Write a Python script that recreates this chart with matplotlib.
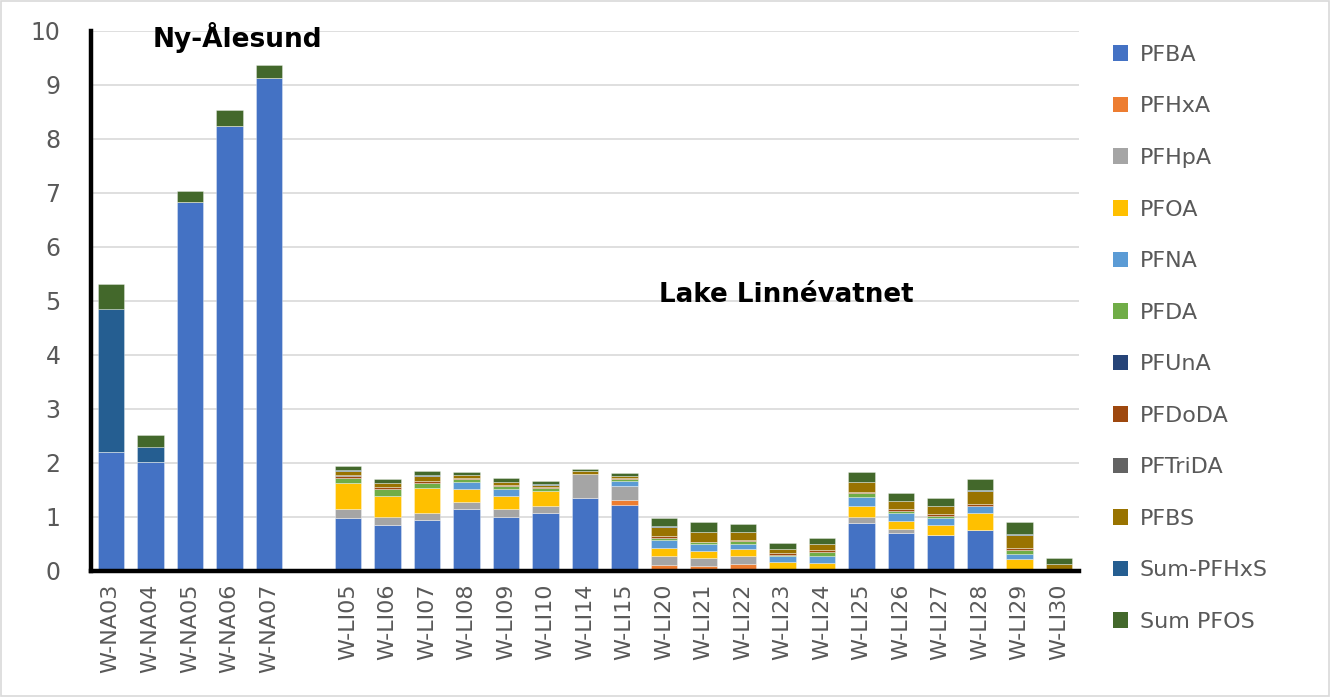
import matplotlib
matplotlib.use("Agg")
import matplotlib.pyplot as plt
from matplotlib.patches import Patch, Rectangle
import numpy as np

plt.rcParams['font.family'] = ['DejaVu Sans']

categories = ["W-NA03", "W-NA04", "W-NA05", "W-NA06", "W-NA07", "",
              "W-LI05", "W-LI06", "W-LI07", "W-LI08", "W-LI09", "W-LI10",
              "W-LI14", "W-LI15", "W-LI20", "W-LI21", "W-LI22", "W-LI23",
              "W-LI24", "W-LI25", "W-LI26", "W-LI27", "W-LI28", "W-LI29", "W-LI30"]

series_names = ["PFBA", "PFHxA", "PFHpA", "PFOA", "PFNA", "PFDA", "PFUnA",
                "PFDoDA", "PFTriDA", "PFBS", "Sum-PFHxS", "Sum PFOS"]

PFBA = [2.19, 2.01, 6.83, 8.24, 9.13, 0,
        0.98, 0.85, 0.93, 1.15, 1.00, 1.07, 1.35, 1.22,
        0, 0, 0, 0, 0, 0.89, 0.69, 0.67, 0.76, 0, 0]
PFHxA = [0, 0, 0, 0, 0, 0,
         0, 0, 0, 0, 0, 0, 0, 0.09,
         0.10, 0.09, 0.12, 0, 0, 0, 0, 0, 0, 0, 0]
PFHpA = [0, 0, 0, 0, 0, 0,
         0.17, 0.15, 0.14, 0.13, 0.14, 0.13, 0.44, 0.25,
         0.17, 0.14, 0.15, 0, 0, 0.11, 0.09, 0, 0, 0, 0]
PFOA = [0, 0, 0, 0, 0, 0,
        0.47, 0.38, 0.46, 0.24, 0.24, 0.27, 0, 0,
        0.15, 0.14, 0.13, 0.16, 0.14, 0.20, 0.14, 0.17, 0.30, 0.21, 0]
PFNA = [0, 0, 0, 0, 0, 0,
        0, 0, 0, 0.12, 0.13, 0, 0, 0.10,
        0.14, 0.12, 0.10, 0.11, 0.14, 0.16, 0.14, 0.13, 0.14, 0.10, 0]
PFDA = [0, 0, 0, 0, 0, 0,
        0.10, 0.13, 0.10, 0.055, 0.055, 0.055, 0, 0.037,
        0.05, 0.05, 0.055, 0.03, 0.068, 0.075, 0.05, 0.05, 0, 0.08, 0]
PFUnA = [0] * 25
PFDoDA = [0, 0, 0, 0, 0, 0,
          0.025, 0.04, 0.035, 0.02, 0.02, 0.02, 0, 0.02,
          0.03, 0, 0.02, 0.02, 0.035, 0.025, 0.03, 0.025, 0.04, 0.037, 0]
PFTriDA = [0, 0, 0, 0, 0, 0,
           0.035, 0, 0, 0, 0, 0, 0, 0,
           0, 0, 0, 0, 0, 0, 0, 0, 0, 0, 0]
PFBS = [0, 0, 0, 0, 0, 0,
        0.068, 0.07, 0.08, 0.05, 0.055, 0.04, 0.05, 0.045,
        0.17, 0.18, 0.14, 0.086, 0.11, 0.18, 0.155, 0.15, 0.23, 0.235, 0.117]
Sum_PFHxS = [2.65, 0.29, 0, 0, 0, 0,
             0.02, 0, 0.03, 0, 0, 0.02, 0, 0,
             0.02, 0, 0, 0, 0, 0, 0, 0, 0.025, 0.025, 0]
Sum_PFOS = [0.47, 0.21, 0.21, 0.29, 0.23, 0,
            0.07, 0.075, 0.075, 0.055, 0.07, 0.05, 0.05, 0.055,
            0.15, 0.18, 0.15, 0.11, 0.12, 0.19, 0.15, 0.15, 0.21, 0.21, 0.11]

series_values = [PFBA, PFHxA, PFHpA, PFOA, PFNA, PFDA, PFUnA,
                 PFDoDA, PFTriDA, PFBS, Sum_PFHxS, Sum_PFOS]

colors = ["#4472C4", "#ED7D31", "#A5A5A5", "#FFC000", "#5B9BD5", "#70AD47",
          "#264478", "#9E480E", "#636363", "#997300", "#255E91", "#43682B"]

yticks = list(range(0, 11))

W, H = 1330, 697
fig = plt.figure(figsize=(W / 100, H / 100), dpi=100)
ax = fig.add_axes([91 / W, 1 - 570.7 / H, (1079 - 91) / W, (570.7 - 30.7) / H])

x = np.arange(len(categories))
bottom = np.zeros(len(categories))
for name, vals, c in zip(series_names, series_values, colors):
    v = np.array(vals, dtype=float)
    ax.bar(x, v, width=0.67, bottom=bottom, color=c, label=name,
           edgecolor=(1, 1, 1, 0.45), linewidth=0.5, zorder=3)
    bottom += v

ax.set_xlim(-0.5, len(categories) - 0.5)
ax.set_ylim(0, 10)
ax.set_yticks(yticks)
ax.set_yticklabels([str(t) for t in yticks])
ax.set_xticks(x)
ax.set_xticklabels(categories, rotation=90)
ax.yaxis.grid(True, color="#D9D9D9", linewidth=1.2, zorder=0)
ax.set_axisbelow(True)
for s in ["top", "right"]:
    ax.spines[s].set_visible(False)
for s in ["left", "bottom"]:
    ax.spines[s].set_linewidth(3.2)
    ax.spines[s].set_color("black")
    ax.spines[s].set_zorder(5)
ax.tick_params(axis="y", length=0, pad=22, labelsize=17, labelcolor="#595959")
ax.tick_params(axis="x", length=0, pad=9, labelsize=16, labelcolor="#595959")

ax.text(3.2, 9.88, "Ny-Ålesund", fontsize=19, fontweight="bold",
        ha="center", va="center", color="black")
ax.text(17.1, 5.1, "Lake Linnévatnet", fontsize=18.8, fontweight="bold",
        ha="center", va="center", color="black")

handles = [Patch(facecolor=c, edgecolor="none") for c in colors]
fig.legend(handles, series_names, loc="upper left",
           bbox_to_anchor=(1104 / W, 1 - 36 / H), frameon=False,
           fontsize=16, labelcolor="#595959", handlelength=0.7,
           handleheight=0.7, handletextpad=0.5, labelspacing=1.42,
           borderaxespad=0)

fig.patches.append(Rectangle((0.001, 0.001), 0.998, 0.997, transform=fig.transFigure,
                             fill=False, edgecolor="#D9D9D9", linewidth=1.2))

fig.savefig("out.png", dpi=100)
